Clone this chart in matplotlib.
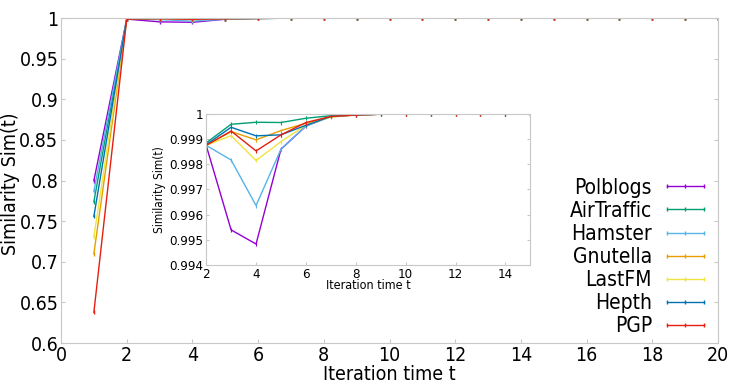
import matplotlib
matplotlib.use("Agg")
import matplotlib.pyplot as plt

# Similarity over iterations, per dataset
t = list(range(1, 21))
names = ["Polblogs", "AirTraffic", "Hamster", "Gnutella", "LastFM", "Hepth", "PGP"]
colors = ["#9400d3", "#009e73", "#56b4e9", "#e69f00", "#f0e442", "#0072b2", "#e51e10"]

tail = [1.0] * 11  # t = 10..20
polblogs   = [0.800, 0.99875, 0.99539, 0.99483, 0.99860, 0.99952, 0.99990, 0.99996, 0.99999] + tail
airtraffic = [0.774, 0.99885, 0.99959, 0.99967, 0.99966, 0.99983, 0.99993, 0.99997, 0.99999] + tail
hamster    = [0.787, 0.99875, 0.99817, 0.99636, 0.99860, 0.99952, 0.99990, 0.99996, 0.99999] + tail
gnutella   = [0.710, 0.99875, 0.99930, 0.99897, 0.99934, 0.99963, 0.99988, 0.99996, 0.99999] + tail
lastfm     = [0.731, 0.99875, 0.99914, 0.99815, 0.99890, 0.99956, 0.99988, 0.99996, 0.99999] + tail
hepth      = [0.756, 0.99878, 0.99947, 0.99913, 0.99917, 0.99955, 0.99990, 0.99996, 0.99999] + tail
pgp        = [0.638, 0.99875, 0.99932, 0.99853, 0.99917, 0.99966, 0.99990, 0.99996, 0.99999] + tail
series = [polblogs, airtraffic, hamster, gnutella, lastfm, hepth, pgp]

plt.rcParams['font.family'] = ['DejaVu Sans']
plt.rcParams['font.stretch'] = 'condensed'
grey = "#c8c8c8"

fig = plt.figure(figsize=(7.47, 3.85), dpi=100)
ax = fig.add_axes([0.0817, 0.109, 0.8795, 0.844])

for name, c, y in zip(names, colors, series):
    ax.plot(t, y, color=c, lw=1.0, marker='|', ms=3, mew=1, label=name)

ax.set_xlim(0, 20)
ax.set_ylim(0.6, 1.0)
ax.set_xticks(range(0, 21, 2))
ax.set_yticks([0.6, 0.65, 0.7, 0.75, 0.8, 0.85, 0.9, 0.95, 1.0])
ax.set_yticklabels(["0.6", "0.65", "0.7", "0.75", "0.8", "0.85", "0.9", "0.95", "1"])
ax.tick_params(direction='in', length=3, color=grey, labelsize=14, top=False, right=True, pad=2)
for s in ax.spines.values():
    s.set_color(grey)
ax.set_xlabel("Iteration time t", fontsize=14, labelpad=0)
ax.set_ylabel("Similarity Sim(t)", fontsize=14)
ax.yaxis.set_label_coords(-0.063, 0.49)

leg = ax.legend(loc='lower right', bbox_to_anchor=(1.001, -0.005), frameon=False,
                markerfirst=False, numpoints=3, fontsize=15, handlelength=2.4,
                labelspacing=0.15, handletextpad=0.4, borderaxespad=0.0)
for txt in leg.get_texts():
    txt.set_ha('right')

# inset zoom on t >= 2
ins = fig.add_axes([0.276, 0.312, 0.434, 0.392])
for name, c, y in zip(names, colors, series):
    ins.plot(t[1:], y[1:], color=c, lw=1.0, marker='|', ms=2.5, mew=0.8)
ins.set_xlim(2, 15)
ins.set_ylim(0.994, 1.0)
ins.set_xticks(range(2, 15, 2))
ins.set_yticks([0.994, 0.995, 0.996, 0.997, 0.998, 0.999, 1.0])
ins.set_yticklabels(["0.994", "0.995", "0.996", "0.997", "0.998", "0.999", "1"])
ins.tick_params(direction='in', length=2, color=grey, labelsize=9.5, right=True, pad=2)
for s in ins.spines.values():
    s.set_color(grey)
ins.set_xlabel("Iteration time t", fontsize=9, labelpad=-1)
ins.set_ylabel("Similarity Sim(t)", fontsize=8.5, labelpad=2)

fig.savefig("out.png", dpi=100)
